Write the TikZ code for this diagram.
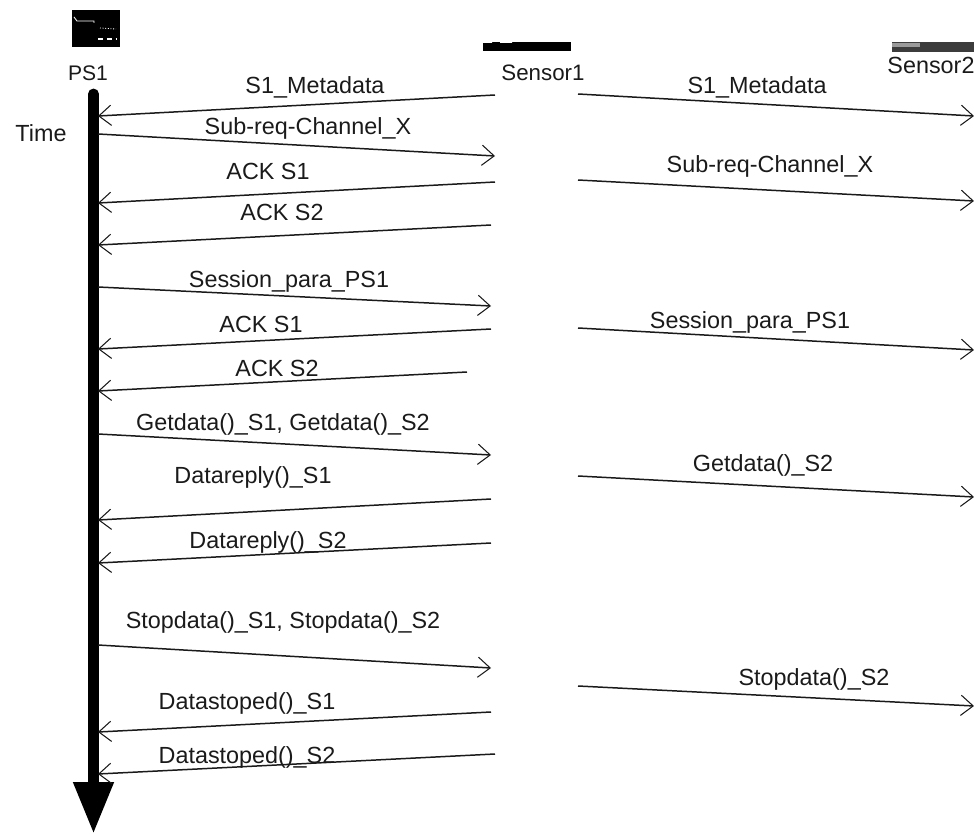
\documentclass[tikz,border=0pt]{standalone}
\usepackage{fontspec}
\setmainfont{Liberation Sans}
\usetikzlibrary{arrows.meta}
\definecolor{ink900}{HTML}{1A1A1A}
\definecolor{grey700}{HTML}{3C3C3C}
\definecolor{grey400}{HTML}{9A9A9A}
\tikzset{
  ar/.style   ={-{Straight Barb[length=7pt,width=11.5pt,line width=0.6pt]},
                draw=ink900, line width=0.85pt},
  timeax/.style={-{Triangle[length=29.5pt,width=21.5pt]}, draw=black,
                line width=6.2pt},
  lbl/.style  ={font=\fontsize{13.3}{15}\selectfont, text=ink900, inner sep=0pt},
  icon/.style ={fill=black, draw=none, inner sep=0pt}
}
\begin{document}
\begin{tikzpicture}[x=0.02cm,y=-0.02cm]
\useasboundingbox (0,0) rectangle (974,834);
% Icons and names along the top.
\node[icon, minimum width=0.96cm, minimum height=0.74cm] (psicon) at (96,28.5) {};
\draw[white, line width=0.5pt] (74,17) -- (77,21) -- (94,21) -- (94,23);
\draw[white, line width=0.5pt, densely dotted] (100,28) -- (116,29);
\draw[white, line width=0.7pt, densely dashed] (98,39) -- (116,39);
\node[icon, minimum width=1.76cm, minimum height=0.18cm] (senicon) at (527,46.5) {};
\fill[white] (483,42) rectangle (492,43) (500,42) rectangle (512,43);
\node[icon, fill=grey700, minimum width=1.64cm, minimum height=0.2cm] (senicontwo) at (933,47) {};
\fill[grey400] (892,43) rectangle (920,47);
\node[lbl, font=\fontsize{12}{14}\selectfont] (ps) at (88,73) {PS1};
\node[lbl, font=\fontsize{12.7}{14}\selectfont] (sen) at (543,73) {Sensor1};
\node[lbl] (sentwo) at (931,65) {Sensor2};
\node[lbl] (tm) at (41,133) {Time};

\coordinate (tmTop) at (93.5,94);
\coordinate (tmEnd) at (93.5,834);
\draw[timeax, line cap=round] (tmTop) -- (tmEnd);

% PS1 and Sensor1.
\coordinate (ma) at (495,95); \coordinate (mb) at (98,116);
\draw[ar] (ma) -- (mb);
\node[lbl] (mt) at (315,87) {S1\_Metadata};
\coordinate (sa) at (98,134); \coordinate (sb) at (495,156);
\draw[ar] (sa) -- (sb);
\node[lbl] (st) at (308,128) {Sub-req-Channel\_X};
\coordinate (aa) at (495,182); \coordinate (ab) at (98,203);
\draw[ar] (aa) -- (ab);
\node[lbl] (at) at (268,171) {ACK S1};
\coordinate (ba) at (491,225); \coordinate (bb) at (98,245);
\draw[ar] (ba) -- (bb);
\node[lbl] (bt) at (282,212) {ACK S2};
\coordinate (pa) at (98,287); \coordinate (pb) at (491,306);
\draw[ar] (pa) -- (pb);
\node[lbl] (pt) at (289,281) {Session\_para\_PS1};
\coordinate (ca) at (491,329); \coordinate (cb) at (98,349);
\draw[ar] (ca) -- (cb);
\node[lbl] (ct) at (261,324) {ACK S1};
\coordinate (da) at (467,372); \coordinate (db) at (98,391);
\draw[ar] (da) -- (db);
\node[lbl] (dt) at (277,368) {ACK S2};
\coordinate (ga) at (98,434); \coordinate (gb) at (491,455);
\draw[ar] (ga) -- (gb);
\node[lbl] (gt) at (283,424) {Getdata()\_S1, Getdata()\_S2};
\coordinate (ra) at (491,499); \coordinate (rb) at (98,520);
\draw[ar] (ra) -- (rb);
\node[lbl] (rt) at (253,477) {Datareply()\_S1};
\coordinate (qa) at (491,543); \coordinate (qb) at (98,563);
\draw[ar] (qa) -- (qb);
\node[lbl] (qt) at (268,542) {Datareply()\_S2};
\coordinate (ta) at (98,645); \coordinate (tb) at (491,668);
\draw[ar] (ta) -- (tb);
\node[lbl] (tt) at (283,622) {Stopdata()\_S1, Stopdata()\_S2};
\coordinate (ea) at (491,712); \coordinate (eb) at (98,732);
\draw[ar] (ea) -- (eb);
\node[lbl] (et) at (247,703) {Datastoped()\_S1};
\coordinate (fa) at (495,754); \coordinate (fb) at (98,774);
\draw[ar] (fa) -- (fb);
\node[lbl] (ft) at (247,757) {Datastoped()\_S2};

% Sensor1 and Sensor2.
\coordinate (mra) at (578,94); \coordinate (mrb) at (974,116);
\draw[ar] (mra) -- (mrb);
\node[lbl] (mrt) at (757,87) {S1\_Metadata};
\coordinate (sra) at (578,180); \coordinate (srb) at (974,201);
\draw[ar] (sra) -- (srb);
\node[lbl] (srt) at (770,166) {Sub-req-Channel\_X};
\coordinate (pra) at (578,328); \coordinate (prb) at (974,350);
\draw[ar] (pra) -- (prb);
\node[lbl] (prt) at (750,322) {Session\_para\_PS1};
\coordinate (gra) at (578,476); \coordinate (grb) at (974,497);
\draw[ar] (gra) -- (grb);
\node[lbl] (grt) at (763,465) {Getdata()\_S2};
\coordinate (tra) at (578,686); \coordinate (trb) at (974,706);
\draw[ar] (tra) -- (trb);
\node[lbl] (trt) at (814,679) {Stopdata()\_S2};
\end{tikzpicture}
\end{document}
